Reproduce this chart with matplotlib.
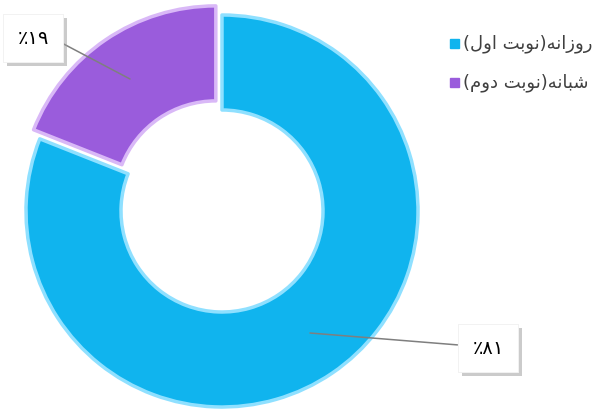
import matplotlib
matplotlib.use("Agg")
import matplotlib.pyplot as plt
from matplotlib.patches import Rectangle
import matplotlib.patheffects as pe

# ---------------------------
# data
categories = ["روزانه(نوبت اول)", "شبانه(نوبت دوم)"]
values = [81, 19]
colors = ["#10B4EE", "#9A5CDC"]
edge_colors = ["#8FE0FF", "#D9B8F7"]
explode = [0, 11]  # pie() takes these in data units (px here)

# ---------------------------
# simple arabic shaping (matplotlib has no bidi / joining)
FORMS = {
    "ا": ("\uFE8D", "\uFE8E", None, None),
    "ب": ("\uFE8F", "\uFE90", "\uFE91", "\uFE92"),
    "ت": ("\uFE95", "\uFE96", "\uFE97", "\uFE98"),
    "د": ("\uFEA9", "\uFEAA", None, None),
    "ر": ("\uFEAD", "\uFEAE", None, None),
    "ز": ("\uFEAF", "\uFEB0", None, None),
    "ش": ("\uFEB5", "\uFEB6", "\uFEB7", "\uFEB8"),
    "ل": ("\uFEDD", "\uFEDE", "\uFEDF", "\uFEE0"),
    "م": ("\uFEE1", "\uFEE2", "\uFEE3", "\uFEE4"),
    "ن": ("\uFEE5", "\uFEE6", "\uFEE7", "\uFEE8"),
    "ه": ("\uFEE9", "\uFEEA", "\uFEEB", "\uFEEC"),
    "و": ("\uFEED", "\uFEEE", None, None),
}


def rtl(s):
    out = []
    for i, c in enumerate(s):
        if c not in FORMS:
            out.append(c)
            continue
        f = FORMS[c]
        prev = s[i - 1] if i > 0 else None
        nxt = s[i + 1] if i + 1 < len(s) else None
        jp = prev in FORMS and FORMS[prev][2] is not None
        jn = nxt in FORMS and f[2] is not None
        if jp and jn:
            out.append(f[3])
        elif jp:
            out.append(f[1])
        elif jn:
            out.append(f[2])
        else:
            out.append(f[0])
    vis = "".join(out)[::-1]
    return vis.translate(str.maketrans("()", ")("))


def fa_pct(v):
    digits = str(v).translate(str.maketrans("0123456789", "۰۱۲۳۴۵۶۷۸۹"))
    return "٪" + digits


plt.rcParams["font.family"] = ["DejaVu Sans"]

fig = plt.figure(figsize=(6.05, 4.10), dpi=100)
ax = fig.add_axes([0, 0, 1, 1])

# pie in pixel units, clockwise from the top, blue first
wedges, _ = ax.pie(values, colors=colors, explode=explode, startangle=90,
                   counterclock=False, center=(222, 198), radius=196,
                   wedgeprops=dict(width=95, linewidth=2.5))
for w, ec in zip(wedges, edge_colors):
    w.set_edgecolor(ec)
    w.set_joinstyle("round")

ax.set_xlim(0, 605)
ax.set_ylim(0, 410)
ax.set_aspect("equal")
ax.axis("off")

# labels with boxes and leader lines
label_pos = [(488, 61), (33, 371)]
line_end = [(310, 76), (130, 330)]
for v, lp, le in zip(values, label_pos, line_end):
    t = ax.annotate(fa_pct(v), xy=le, xytext=lp, fontsize=14, ha="center", va="center",
                    bbox=dict(boxstyle="square,pad=0.75", fc="white", ec="#f0f0f0", lw=0.5),
                    arrowprops=dict(arrowstyle="-", color="#7f7f7f", lw=1.1,
                                    shrinkA=0, shrinkB=0, relpos=(0 if lp[0] > 300 else 1, 0.6)))
    t.get_bbox_patch().set_path_effects([pe.withSimplePatchShadow(offset=(3, -3), shadow_rgbFace="#999999", alpha=0.5), pe.Normal()])

# legend drawn by hand
leg_y = [366, 327]
for cat, col, y in zip(categories, colors, leg_y):
    ax.add_patch(Rectangle((450, y - 4.5), 9, 9, fc=col, ec=col))
    ax.text(463, y, rtl(cat), fontsize=13, ha="left", va="center", color="#404040")

fig.savefig("out.png", dpi=100)
